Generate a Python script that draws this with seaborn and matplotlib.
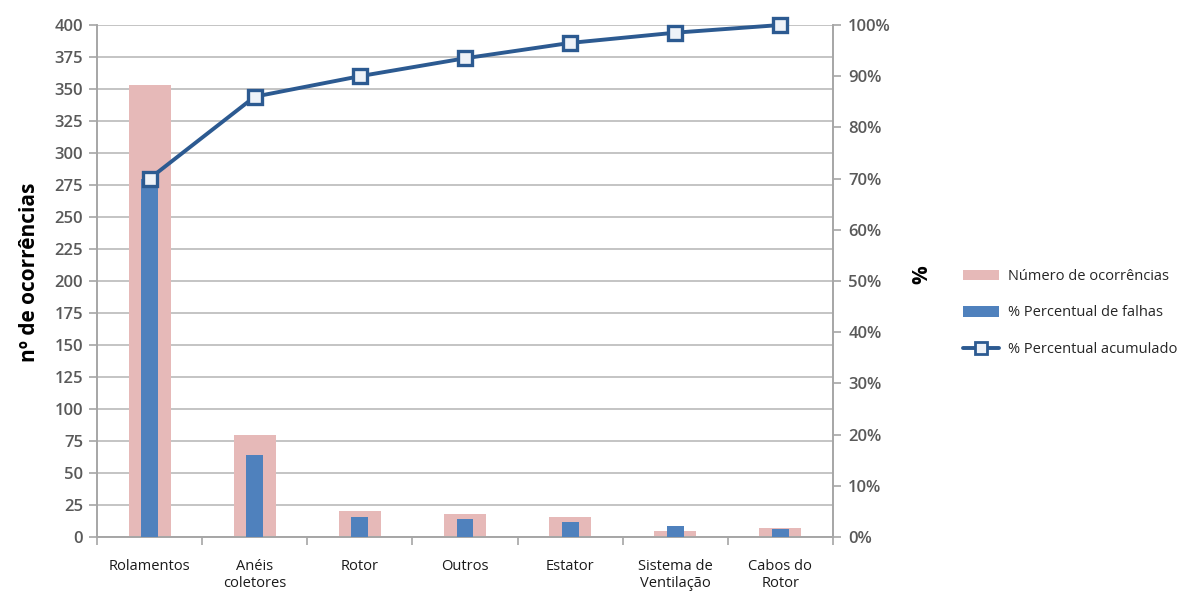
import numpy as np
import matplotlib
matplotlib.use("Agg")
import matplotlib.pyplot as plt
from matplotlib.patches import Patch
from matplotlib.lines import Line2D
from matplotlib.ticker import FixedLocator
import seaborn as sns

# Data
categorias = ["Rolamentos", "Anéis\ncoletores", "Rotor", "Outros", "Estator",
              "Sistema de\nVentilação", "Cabos do\nRotor"]
ocorrencias = [353, 80, 20, 18, 16, 5, 7]
perc_falhas = [70, 16, 4, 3.6, 3, 2.1, 1.5]
perc_acumulado = [70, 86, 90, 93.5, 96.5, 98.5, 100]

left_ticks = list(range(0, 401, 25))
right_ticks = list(range(0, 101, 10))

sns.set_theme(style="white")
plt.rcParams["font.family"] = ["Open Sans", "DejaVu Sans"]

ROSA = "#E6B9B8"
AZUL = "#4F81BD"
AZUL_LINHA = "#2C5A91"
CINZA = "#A6A6A6"
TEXTO_EIXO = "#595959"

fig = plt.figure(figsize=(11.84, 5.92), dpi=100)
ax = fig.add_axes([97 / 1184, 1 - 537 / 592, (833 - 97) / 1184, (537 - 25) / 592])
ax2 = ax.twinx()

x = np.arange(len(categorias))

# Occurrence count bars (left axis)
sns.barplot(x=x, y=ocorrencias, color=ROSA, saturation=1, width=0.4, ax=ax,
            native_scale=True, linewidth=0, edgecolor="none", zorder=2)
# Failure percentage bars (right axis)
sns.barplot(x=x, y=perc_falhas, color=AZUL, saturation=1, width=0.16, ax=ax2,
            native_scale=True, linewidth=0, edgecolor="none", zorder=3)
# Cumulative percentage line
sns.lineplot(x=x, y=perc_acumulado, ax=ax2, color=AZUL_LINHA, linewidth=2.8,
             marker="s", markersize=10, markerfacecolor="#EEF2F8",
             markeredgecolor=AZUL_LINHA, markeredgewidth=2.4, zorder=4,
             clip_on=False)

ax.set_xlim(-0.5, len(categorias) - 0.5)
ax2.set_xlim(-0.5, len(categorias) - 0.5)
ax.set_ylim(0, 400)
ax2.set_ylim(0, 100)

ax.set_yticks(left_ticks)
ax.set_yticklabels([str(v) for v in left_ticks])
ax2.set_yticks(right_ticks)
ax2.set_yticklabels([f"{v}%" for v in right_ticks])

ax.set_xticks(x)
ax.set_xticklabels(categorias, fontsize=10.5, color="#1a1a1a")
ax.xaxis.set_minor_locator(FixedLocator(np.arange(-0.5, len(categorias), 1.0)))
ax.tick_params(axis="x", which="major", length=0, pad=16)
ax.tick_params(axis="x", which="minor", length=6, width=1.2, color=CINZA, bottom=True)
ax.tick_params(axis="y", length=6, width=1.2, color=CINZA, labelsize=12,
               labelcolor=TEXTO_EIXO, left=True, pad=4)
ax2.tick_params(axis="y", length=6, width=1.2, color=CINZA, labelsize=12,
                labelcolor=TEXTO_EIXO, right=True, pad=5)
for lab in ax.get_yticklabels() + ax2.get_yticklabels():
    lab.set_fontweight("semibold")

ax.set_xlabel("")
ax.set_ylabel("")
ax2.set_ylabel("")

ax.yaxis.grid(True, color="#BFBFBF", linewidth=1.3, zorder=0)
ax.set_axisbelow(True)
ax2.grid(False)

for a in (ax, ax2):
    a.spines["top"].set_visible(False)
    for s in ("left", "right", "bottom"):
        a.spines[s].set_color(CINZA)
        a.spines[s].set_linewidth(1.2)
ax2.patch.set_visible(False)

fig.text(30 / 1184, 1 - 272 / 592, "nº de ocorrências", rotation=90, ha="center",
         va="center", fontsize=15, fontweight="bold", color="black")
fig.text(922 / 1184, 1 - 275 / 592, "%", rotation=90, ha="center", va="center",
         fontsize=15, fontweight="bold", color="black")

handles = [
    Patch(facecolor=ROSA, edgecolor="none"),
    Patch(facecolor=AZUL, edgecolor="none"),
    Line2D([0], [0], color=AZUL_LINHA, linewidth=2.8, marker="s", markersize=8,
           markerfacecolor="#EEF2F8", markeredgecolor=AZUL_LINHA, markeredgewidth=2),
]
labels = ["Número de ocorrências", "% Percentual de falhas", "% Percentual acumulado"]
fig.legend(handles, labels, loc="center left", bbox_to_anchor=(960 / 1184, 1 - 313 / 592),
           frameon=False, fontsize=10.5, handlelength=2.5, handleheight=0.7,
           labelspacing=1.45, handletextpad=0.6, borderaxespad=0, borderpad=0.2)

fig.savefig("out.png", dpi=100, facecolor="white")
